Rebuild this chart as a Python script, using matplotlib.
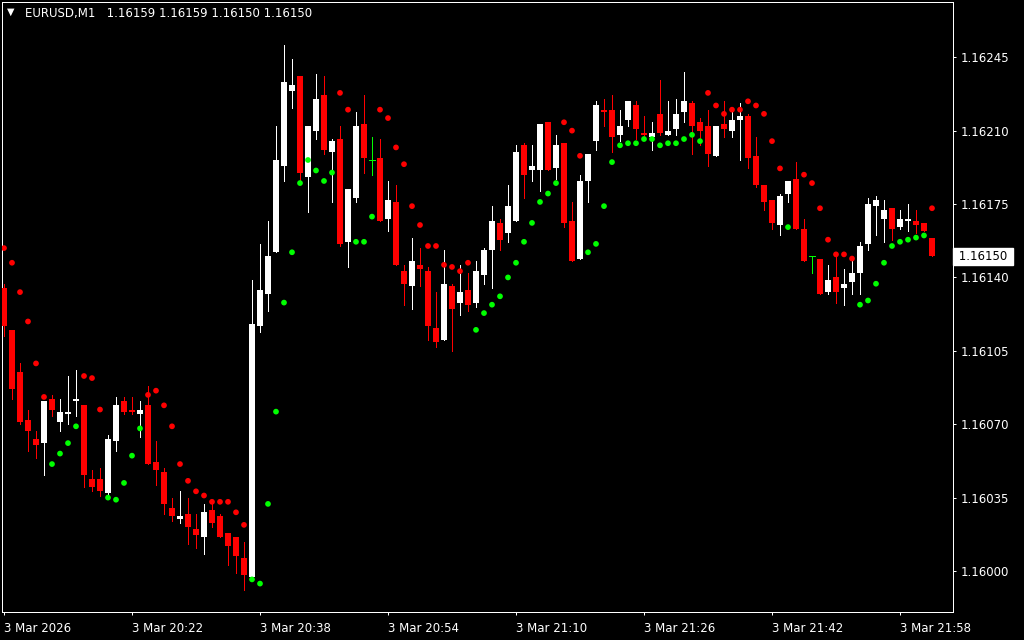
import numpy as np
import matplotlib
matplotlib.use("Agg")
import matplotlib.pyplot as plt

# EURUSD M1, 3 Mar 2026, one bar per minute starting 20:06
# prices are stored as points above 1.16000 (1 point = 0.00001)
base = 1.16

opens = [135, 115, 95, 72, 63, 61, 82, 71, 75, 81,
         79, 44, 44, 37, 62, 81, 77, 75, 79, 52,
         47, 30, 25, 27, 20, 16, 29, 26, 18, 16,
         6, -3, 117, 132, 152, 193, 229, 236, 188, 210,
         227, 200, 206, 157, 178, 213, 196, 197, 168, 176,
         143, 136, 146, 143, 116, 110, 136, 128, 134, 128,
         141, 153, 166, 161, 167, 203, 191, 191, 214, 192,
         204, 167, 149, 186, 205, 220, 220, 208, 215, 222,
         209, 207, 218, 208, 211, 219, 223, 214, 212, 198,
         213, 210, 215, 217, 198, 184, 177, 165, 180, 187,
         163, 150, 149, 133, 140, 135, 138, 142, 156, 174,
         168, 173, 164, 167, 167, 166, 159]

highs = [137, 115, 99, 77, 67, 81, 84, 82, 93, 96,
         79, 48, 49, 65, 83, 83, 83, 81, 88, 62,
         49, 35, 38, 35, 27, 32, 32, 27, 18, 16,
         14, 139, 156, 167, 212, 251, 244, 236, 212, 237,
         236, 206, 212, 182, 219, 227, 207, 206, 186, 184,
         146, 159, 154, 145, 133, 153, 137, 146, 142, 148,
         154, 174, 168, 184, 203, 204, 203, 213, 214, 208,
         204, 176, 189, 199, 224, 225, 227, 220, 224, 224,
         217, 214, 234, 224, 225, 238, 224, 216, 220, 212,
         224, 219, 223, 218, 207, 184, 177, 180, 186, 195,
         168, 150, 149, 146, 150, 144, 148, 157, 178, 179,
         177, 173, 172, 175, 172, 166, 159]

lows = [112, 82, 70, 57, 54, 46, 74, 67, 70, 74,
        40, 38, 36, 35, 57, 75, 75, 64, 51, 41,
        27, 24, 23, 13, 11, 8, 21, 16, 3, -1,
        -9, -4, 114, 124, 152, 186, 221, 185, 171, 206,
        199, 176, 155, 145, 176, 190, 189, 167, 162, 146,
        127, 125, 136, 110, 107, 110, 105, 122, 124, 126,
        137, 135, 153, 157, 167, 178, 186, 181, 191, 187,
        164, 148, 149, 176, 201, 212, 200, 205, 212, 206,
        206, 201, 208, 208, 208, 214, 199, 203, 193, 198,
        207, 207, 196, 192, 183, 172, 163, 160, 176, 163,
        148, 142, 132, 132, 128, 127, 132, 132, 153, 160,
        157, 158, 163, 162, 161, 162, 150]

closes = [117, 87, 71, 67, 60, 81, 77, 76, 76, 82,
          46, 40, 38, 63, 79, 76, 76, 77, 51, 48,
          32, 26, 26, 21, 17, 28, 23, 16, 12, 7,
          -2, 118, 134, 150, 196, 233, 232, 190, 212, 225,
          201, 205, 156, 182, 212, 197, 196, 167, 177, 146,
          137, 148, 144, 117, 109, 137, 125, 133, 127, 143,
          153, 167, 158, 174, 200, 189, 193, 213, 191, 203,
          166, 148, 186, 199, 222, 219, 207, 212, 224, 211,
          208, 209, 209, 210, 218, 224, 212, 210, 199, 212,
          211, 215, 217, 197, 184, 176, 166, 179, 186, 163,
          148, 150, 132, 139, 133, 137, 142, 155, 175, 177,
          172, 163, 168, 168, 165, 162, 150]

# parabolic SAR dots
sar = [154, 147, 133, 119, 99, 83, 51, 56, 61, 69,
       93, 92, 77, 35, 34, 42, 55, 68, 84, 86,
       79, 69, 51, 43, 38, 36, 33, 33, 33, 28,
       22, -4, -6, 32, 76, 128, 152, 185, 196, 191,
       186, 190, 228, 220, 157, 157, 169, 220, 216, 202,
       194, 174, 165, 155, 155, 146, 145, 143, 147, 115,
       123, 127, 131, 140, 147, 157, 166, 176, 180, 185,
       214, 210, 198, 152, 156, 174, 195, 203, 204, 204,
       206, 206, 203, 204, 204, 206, 208, 205, 228, 222,
       218, 220, 220, 224, 222, 218, 205, 192, 164, 183,
       189, 185, 173, 158, 151, 151, 149, 127, 129, 137,
       147, 155, 157, 158, 159, 160, 173]

tick_bars = [0, 16, 32, 48, 64, 80, 96, 112]
tick_labels = ["3 Mar 2026", "3 Mar 20:22", "3 Mar 20:38", "3 Mar 20:54",
               "3 Mar 21:10", "3 Mar 21:26", "3 Mar 21:42", "3 Mar 21:58"]
price_ticks = [1.16000, 1.16035, 1.16070, 1.16105, 1.16140, 1.16175, 1.16210, 1.16245]

o = base + np.array(opens) * 1e-5
h = base + np.array(highs) * 1e-5
l = base + np.array(lows) * 1e-5
c = base + np.array(closes) * 1e-5
s = base + np.array(sar) * 1e-5
x = np.arange(len(o))

RED = "#ff0000"
GREEN = "#00ff00"
px = 0.72  # one pixel in points

fig = plt.figure(figsize=(10.24, 6.4), dpi=100, facecolor="black")
ax = fig.add_axes([2 / 1024, 1 - 612 / 640, 951 / 1024, 610 / 640])
ax.set_facecolor("black")

up = np.round(c - o, 6) > 0
dn = np.round(c - o, 6) < 0
doji = ~(up | dn)
cols = np.where(up, "white", np.where(dn, RED, GREEN))

# wicks
ax.vlines(x, l, h, colors=cols, linewidth=px, zorder=2, antialiased=False)
# bodies
body = ~doji
ax.bar(x[body], np.abs(c - o)[body], bottom=np.minimum(o, c)[body], width=0.64,
       color=cols[body], linewidth=0, zorder=3, antialiased=False)
ax.hlines(o[doji], x[doji] - 0.32, x[doji] + 0.32, colors=GREEN, linewidth=px,
          zorder=3, antialiased=False)

# SAR
sar_cols = np.where(s < c, GREEN, RED)
ax.scatter(x, s, s=17, c=sar_cols, linewidths=0, zorder=4)

ax.set_xlim(-0.25, 118.625)
ax.set_ylim(1.1598045, 1.1627135)

for sp in ax.spines.values():
    sp.set_color("white")
    sp.set_linewidth(px)

ax.yaxis.tick_right()
ax.set_yticks(price_ticks)
ax.set_yticklabels([f"{p:.5f}" for p in price_ticks])
ax.set_xticks(tick_bars)
ax.set_xticklabels(tick_labels, ha="left")
ax.tick_params(axis="y", colors="white", length=2.2, width=px, pad=3, labelsize=8.5)
ax.tick_params(axis="x", colors="white", length=2.5, width=px, pad=5, labelsize=8.5)

# current price label
ax.text(1.002, c[-1], f" {c[-1]:.5f} ", transform=ax.get_yaxis_transform(),
        ha="left", va="center", color="black", fontsize=8.5,
        bbox=dict(boxstyle="square,pad=0.15", fc="white", ec="white"))

# header
fig.text(7 / 1024, 1 - 12 / 640, "\u25bc", color="white", fontsize=7, va="center", ha="left")
fig.text(25 / 1024, 1 - 14 / 640,
         f"EURUSD,M1   {o[-1]:.5f} {h[-1]:.5f} {l[-1]:.5f} {c[-1]:.5f}",
         color="white", fontsize=8.5, va="center", ha="left")

fig.savefig("out.png", dpi=100, facecolor="black")
